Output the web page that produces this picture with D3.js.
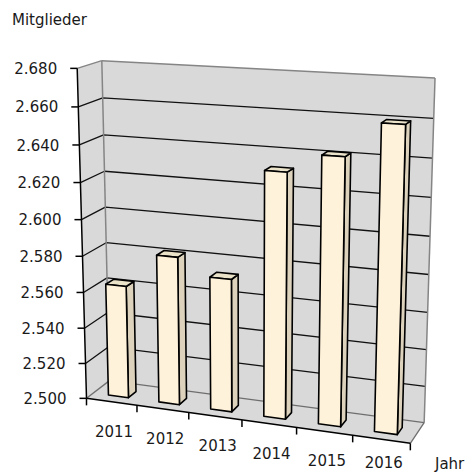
<!DOCTYPE html>
<html>
<head>
<meta charset="utf-8">
<script src="https://cdn.jsdelivr.net/npm/d3@7"></script>
<style>
  body { margin: 0; background: #fff; }
  svg { display: block; }
  text { font-family: "DejaVu Sans", sans-serif; font-size: 15px; fill: #1a1a1a; }
</style>
</head>
<body>
<svg id="chart" width="470" height="473"></svg>
<script>
// Membership numbers per year
const years = ["2011", "2012", "2013", "2014", "2015", "2016"];
const members = [2563, 2582, 2573, 2632, 2642, 2660];
const yTicks = [2500, 2520, 2540, 2560, 2580, 2600, 2620, 2640, 2660, 2680];
const yTickLabels = ["2.500", "2.520", "2.540", "2.560", "2.580", "2.600", "2.620", "2.640", "2.660", "2.680"];

// Screen anchors of the 3-D box corners: world [x, y, z] (0..1, z = depth) -> screen [px, py]
const frameCorners = [
  [[0, 0, 0], [87, 399]],
  [[0, 1, 0], [77, 68]],
  [[0, 1, 1], [102, 61]],
  [[1, 1, 1], [435, 78]],
  [[1, 0, 0], [410, 443]],
  [[1, 0, 1], [424.5, 423]],
  [[0, 0, 1], [109, 380]]
];

// Perspective camera fitted (least squares, DLT) to the box anchors
function fitProjection(pairs) {
  const cx = 250, cy = 250, s = 200;
  const A = [], b = [];
  pairs.forEach(([[X, Y, Z], [pu, pv]]) => {
    const u = (pu - cx) / s, v = (pv - cy) / s;
    A.push([X, Y, Z, 1, 0, 0, 0, 0, -u * X, -u * Y, -u * Z]); b.push(u);
    A.push([0, 0, 0, 0, X, Y, Z, 1, -v * X, -v * Y, -v * Z]); b.push(v);
  });
  const n = 11, M = [];
  for (let i = 0; i < n; i++) {
    const row = new Array(n + 1).fill(0);
    for (let j = 0; j < n; j++) {
      let acc = 0;
      for (let k = 0; k < A.length; k++) acc += A[k][i] * A[k][j];
      row[j] = acc;
    }
    let acc = 0;
    for (let k = 0; k < A.length; k++) acc += A[k][i] * b[k];
    row[n] = acc;
    M.push(row);
  }
  for (let c = 0; c < n; c++) {
    let p = c;
    for (let r = c + 1; r < n; r++) if (Math.abs(M[r][c]) > Math.abs(M[p][c])) p = r;
    [M[c], M[p]] = [M[p], M[c]];
    for (let r = 0; r < n; r++) {
      if (r === c) continue;
      const f = M[r][c] / M[c][c];
      for (let k = c; k <= n; k++) M[r][k] -= f * M[c][k];
    }
  }
  const P = M.map((row, i) => row[n] / row[i]);
  return ([X, Y, Z]) => {
    const w = P[8] * X + P[9] * Y + P[10] * Z + 1;
    return [
      (P[0] * X + P[1] * Y + P[2] * Z + P[3]) / w * s + cx,
      (P[4] * X + P[5] * Y + P[6] * Z + P[7]) / w * s + cy
    ];
  };
}
const project = fitProjection(frameCorners);

// Scales in world units
const x = d3.scaleBand().domain(years).range([0, 1]).paddingInner(0.6).paddingOuter(0.3);
const y = d3.scaleLinear().domain([2500, 2680]).range([0, 1]);
const barZ = [0.3, 0.64];

const svg = d3.select("#chart");
const poly = pts => "M" + pts.map(p => project(p).join(",")).join("L") + "Z";
const seg = (a, b) => "M" + project(a).join(",") + "L" + project(b).join(",");

const wallFill = "#d9d9d9";
const frameGray = "#858585";

// Walls and floor
const g = svg.append("g");
g.append("path").attr("d", poly([[0, 0, 0], [1, 0, 0], [1, 0, 1], [0, 0, 1]])).attr("fill", wallFill);
g.append("path").attr("d", poly([[0, 0, 0], [0, 1, 0], [0, 1, 1], [0, 0, 1]])).attr("fill", wallFill);
g.append("path").attr("d", poly([[0, 0, 1], [0, 1, 1], [1, 1, 1], [1, 0, 1]])).attr("fill", wallFill);

// Gridlines on the side wall and back wall
const inner = yTicks.filter(v => v > 2500 && v < 2680);
inner.forEach(v => {
  const t = y(v);
  g.append("path").attr("d", seg([0, t, 0], [0, t, 1]) + seg([0, t, 1], [1, t, 1]))
    .attr("fill", "none").attr("stroke", "#111").attr("stroke-width", 1.3);
});
// Frame edges
[
  [[0, 1, 0], [0, 1, 1]], [[0, 1, 1], [1, 1, 1]], [[0, 1, 1], [0, 0, 1]], [[1, 1, 1], [1, 0, 1]]
].forEach(([a, b]) => g.append("path").attr("d", seg(a, b)).attr("fill", "none")
  .attr("stroke", frameGray).attr("stroke-width", 1.5));
[
  [[0, 0, 0], [0, 0, 1]], [[0, 0, 1], [1, 0, 1]], [[1, 0, 0], [1, 0, 1]]
].forEach(([a, b]) => g.append("path").attr("d", seg(a, b)).attr("fill", "none")
  .attr("stroke", "#6e6e6e").attr("stroke-width", 1.3));

// Bars, drawn left to right
const bars = svg.append("g");
years.forEach((yr, i) => {
  const x0 = x(yr), x1 = x(yr) + x.bandwidth();
  const h = y(members[i]);
  const [z0, z1] = barZ;
  const bg = bars.append("g").attr("stroke", "#000").attr("stroke-width", 1.6).attr("stroke-linejoin", "round");
  bg.append("path").attr("fill", "#ddd3bd")
    .attr("d", poly([[x1, 0, z0], [x1, 0, z1], [x1, h, z1], [x1, h, z0]]));
  bg.append("path").attr("fill", "#ebe2ca")
    .attr("d", poly([[x0, h, z0], [x1, h, z0], [x1, h, z1], [x0, h, z1]]));
  bg.append("path").attr("fill", "#fff2da")
    .attr("d", poly([[x0, 0, z0], [x1, 0, z0], [x1, h, z0], [x0, h, z0]]));
});

// Axes
const axes = svg.append("g");
axes.append("path").attr("d", seg([0, 0, 0], [0, 1, 0]) + seg([0, 0, 0], [1, 0, 0]))
  .attr("fill", "none").attr("stroke", "#000").attr("stroke-width", 1.5);

yTicks.forEach((v, i) => {
  const [px, py] = project([0, y(v), 0]);
  axes.append("line").attr("x1", px - 7).attr("x2", px).attr("y1", py).attr("y2", py)
    .attr("stroke", "#000").attr("stroke-width", 1.5);
  axes.append("text").attr("x", px - 20).attr("y", py).attr("dy", "0.37em")
    .attr("text-anchor", "end").text(yTickLabels[i]);
});

const boundaries = d3.range(years.length + 1).map(k => k * x.step());
boundaries.forEach(bx => {
  const [px, py] = project([bx, 0, 0]);
  axes.append("line").attr("x1", px).attr("x2", px).attr("y1", py).attr("y2", py + 7)
    .attr("stroke", "#000").attr("stroke-width", 1.5);
});
years.forEach(yr => {
  const [px, py] = project([x(yr) + x.bandwidth() / 2, 0, 0]);
  // keep the last label inside the bottom edge
  axes.append("text").attr("x", px + 2.5).attr("y", Math.min(py + 35, 468))
    .attr("text-anchor", "middle").text(yr);
});

svg.append("text").attr("x", 12).attr("y", 25).text("Mitglieder");
svg.append("text").attr("x", 435).attr("y", 469).text("Jahr");
</script>
</body>
</html>
